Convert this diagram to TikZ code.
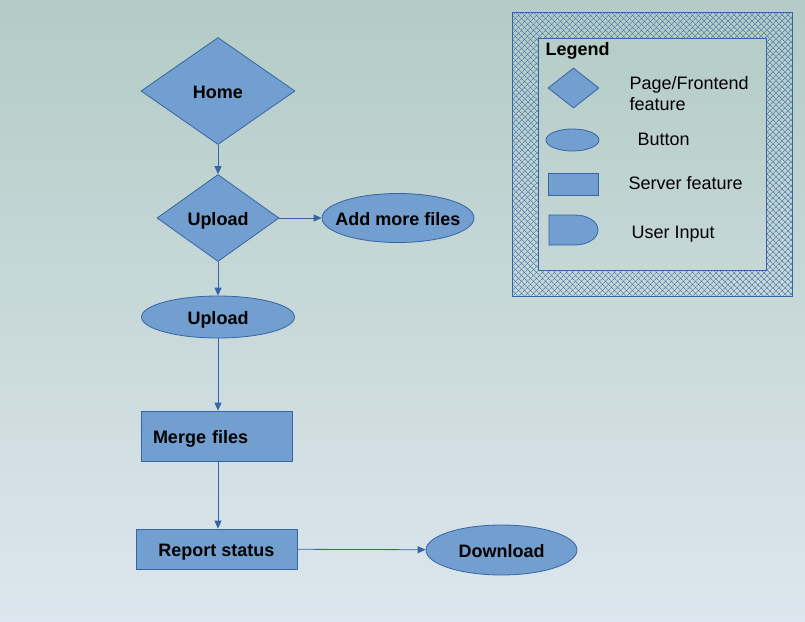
\documentclass[tikz,border=0pt]{standalone}
\usepackage{fontspec}
\setmainfont{Liberation Sans}
\usetikzlibrary{arrows.meta,positioning,shapes.geometric,patterns.meta}
\definecolor{FlowFill}{HTML}{729FCF}
\definecolor{FlowLine}{HTML}{3465A4}
\definecolor{SkyTop}{HTML}{B3CBC5}
\definecolor{SkyBottom}{HTML}{DDE6EE}

\begin{document}
\begin{tikzpicture}[x=1pt,y=-1pt,
    shape base/.style={draw=FlowLine,fill=FlowFill,line width=0.8pt,inner sep=0pt,
      text height=14pt,text depth=0pt,font=\bfseries\fontsize{18}{21}\selectfont},
    page/.style={shape base,diamond},
    button/.style={shape base,ellipse},
    server/.style={shape base,rectangle},
    legendtext/.style={anchor=west,align=left,font=\fontsize{18}{21}\selectfont},
    arrow/.style={-{Triangle[length=8pt,width=7pt]},line width=0.8pt,draw=FlowLine}
  ]
    % background
    \shade[top color=SkyTop,bottom color=SkyBottom] (0,0) rectangle (805,621);
    \useasboundingbox (0,0) rectangle (805,621);

    % flow
    \node[page,minimum width=154pt,minimum height=107pt] (home) at (218,91) {Home};
    \node[page,minimum width=122pt,minimum height=87pt] (upload) at (218,218) {Upload};
    \node[button,minimum width=152pt,minimum height=49pt,inner xsep=-10pt]
      (more) at (398,218) {Add more files};
    \node[button,minimum width=153pt,minimum height=42pt] (send) at (218,317) {Upload};
    \node[server,minimum height=50pt,text width=127pt,align=left,inner xsep=12pt]
      (merge) at (216.5,436) {Merge files};
    \node[server,minimum width=161pt,minimum height=40pt] (report) at (216.5,549) {Report status};
    \node[button,minimum width=151pt,minimum height=50pt] (download) at (501.5,550) {Download};

    \draw[arrow] (home) -- (upload);
    \draw[arrow] (upload) -- (more);
    \draw[arrow] (upload) -- (send);
    \draw[arrow] (send.south) -- (send.south |- merge.north);
    \draw[arrow] (send.south |- merge.south) -- (send.south |- report.north);
    \draw[arrow] (report) -- (download);

    % legend
    \fill[pattern={Lines[angle=45,distance=4pt,line width=0.5pt]},pattern color=FlowLine,
      even odd rule] (512,12) rectangle (792,296) (538,38) rectangle (766,270);
    \fill[pattern={Lines[angle=-45,distance=4pt,line width=0.5pt]},pattern color=FlowLine,
      even odd rule] (512,12) rectangle (792,296) (538,38) rectangle (766,270);
    \draw[FlowLine,line width=0.8pt] (512,12) rectangle (792,296);
    \draw[FlowLine,line width=0.8pt] (538,38) rectangle (766,270);

    \node[legendtext,font=\bfseries\fontsize{18}{21}\selectfont] (legend) at (542,51) {Legend};
    \node[page,minimum width=51pt,minimum height=40pt] (keypage) at (573.5,88) {};
    \node[button,minimum width=53pt,minimum height=22pt] (keybutton) at (572.5,140) {};
    \node[server,minimum width=50pt,minimum height=22pt] (keyserver) at (573,184) {};
    \draw[shape base] (549,215) -- (575,215) arc[start angle=-90,end angle=90,x radius=23,y radius=15]
      -- (549,245) -- cycle;

    \node[legendtext] (keypagetext) at (626,93.5) {Page/Frontend\\feature};
    \node[legendtext] (keybuttontext) at (634,139) {Button};
    \node[legendtext] (keyservertext) at (625,183) {Server feature};
    \node[legendtext] (keyinputtext) at (628,234) {User Input};
  \end{tikzpicture}
\end{document}
